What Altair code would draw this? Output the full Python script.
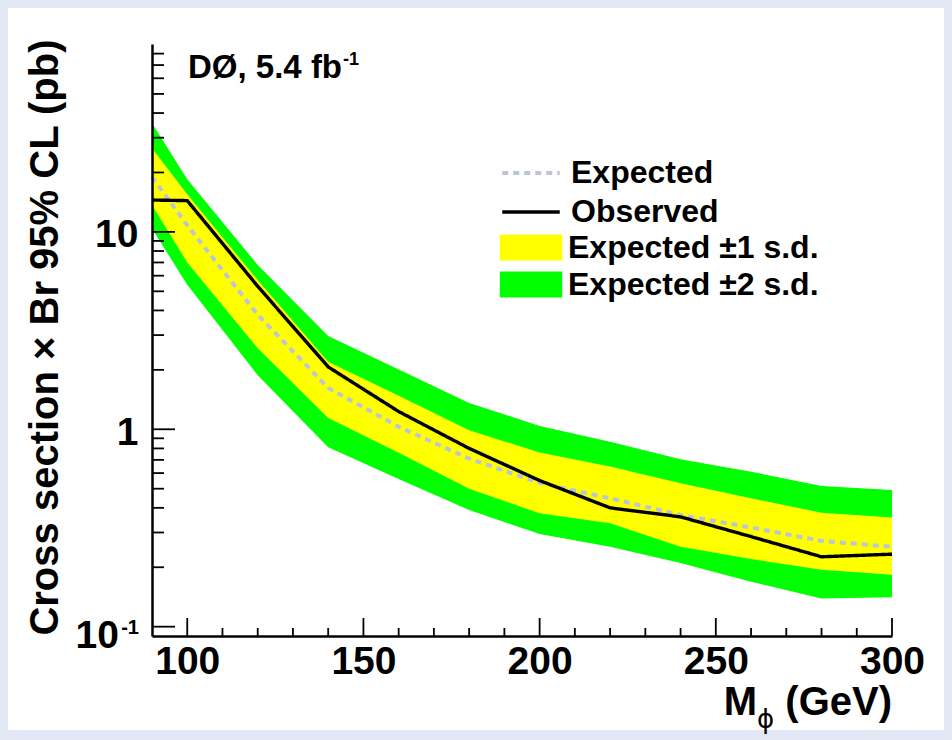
import altair as alt
import pandas as pd

# 95% CL upper limits on cross section x branching ratio (pb) vs Higgs mass
mass = [90, 100, 120, 140, 160, 180, 200, 220, 240, 260, 280, 300]
observed = [14.5, 14.4, 5.3, 2.07, 1.23, 0.80, 0.55, 0.40, 0.36, 0.286, 0.226, 0.233]
expected = [19.0, 10.8, 3.8, 1.62, 1.03, 0.71, 0.535, 0.447, 0.368, 0.318, 0.272, 0.254]
exp_minus1 = [13.7, 7.0, 2.57, 1.14, 0.76, 0.50, 0.375, 0.334, 0.254, 0.22, 0.194, 0.183]
exp_plus1 = [26.5, 15.5, 5.7, 2.2, 1.48, 0.99, 0.762, 0.647, 0.533, 0.447, 0.378, 0.357]
exp_minus2 = [10.4, 5.4, 1.88, 0.81, 0.56, 0.39, 0.295, 0.254, 0.21, 0.169, 0.139, 0.141]
exp_plus2 = [35.5, 18.5, 6.8, 2.97, 2.01, 1.36, 1.04, 0.865, 0.705, 0.61, 0.516, 0.493]

series_names = ["Expected", "Observed"]
band_names = ["Expected \u00b11 s.d.", "Expected \u00b12 s.d."]

# axis ticks
x_major = [100, 150, 200, 250, 300]
x_minor = [110, 120, 130, 140, 160, 170, 180, 190, 210, 220, 230, 240, 260, 270, 280, 290]
y_major = [0.1, 1, 10]
y_minor = [0.2, 0.3, 0.4, 0.5, 0.6, 0.7, 0.8, 0.9, 2, 3, 4, 5, 6, 7, 8, 9,
           20, 30, 40, 50, 60, 70, 80]

y_title = "Cross section \u00d7 Br 95% CL (pb)"
lumi_label = ["D\u00d8, 5.4 fb"]
lumi_power = ["-1"]
x_title_main = ["M"]
x_title_sub = ["\u03d5"]
x_title_unit = ["(GeV)"]
low_label_base = ["10"]
low_label_power = ["-1"]

W, H = 740, 592
FONT = "Liberation Sans"
n = len(mass)

bands = pd.DataFrame({
    "mass": mass * 2,
    "lo": exp_minus1 + exp_minus2,
    "hi": exp_plus1 + exp_plus2,
    "band": [band_names[0]] * n + [band_names[1]] * n,
})
lines = pd.DataFrame({
    "mass": mass * 2,
    "limit": expected + observed,
    "series": [series_names[0]] * n + [series_names[1]] * n,
})

xs = alt.Scale(domain=[90, 300], nice=False, zero=False)
ys = alt.Scale(type="log", domain=[0.0897, 89.5], nice=False)

x_axis = alt.Axis(values=x_major, ticks=False, grid=False, title=None,
                  labelFont=FONT, labelFontSize=39, labelFontWeight="bold",
                  labelColor="black", labelPadding=6, domainColor="black",
                  domainWidth=2.5, labelFlush=False, zindex=1)
y_axis = alt.Axis(values=[1, 10], ticks=False, grid=False, title=y_title,
                  labelExpr="datum.value == 1 ? '1' : '10'",
                  labelFont=FONT, labelFontSize=39, labelFontWeight="bold",
                  labelColor="black", labelPadding=14, labelBaseline="middle",
                  labelOffset=3, domainColor="black", domainWidth=2.5,
                  titleFont=FONT, titleFontSize=40, titleFontWeight="bold",
                  titleColor="black", titleAnchor="end", titleAlign="right",
                  titleAngle=-90, titleBaseline="alphabetic",
                  titleX=-95, titleY=-5, zindex=1)


def X(field):
    return alt.X(field, type="quantitative", scale=xs, axis=x_axis)


def Y(field):
    return alt.Y(field, type="quantitative", scale=ys, axis=y_axis)


fill_scale = alt.Scale(domain=band_names, range=["#ffff00", "#00ff00"])
fill_legend = alt.Legend(title=None, orient="none", legendX=363, legendY=187.5,
                         symbolType="M-2.4,-1H2.4V1H-2.4Z", symbolSize=676,
                         symbolStrokeWidth=0, symbolOpacity=1, labelOffset=21,
                         rowPadding=5, labelFont=FONT, labelFontSize=32,
                         labelFontWeight="bold", labelColor="black",
                         labelLimit=0, padding=0, zindex=1)

stroke_scale = alt.Scale(domain=series_names, range=["#bcc5d3", "#000000"])
dash_scale = alt.Scale(domain=series_names, range=[[6, 5], [1, 0]])
width_scale = alt.Scale(domain=series_names, range=[4, 3.4])
line_legend = alt.Legend(title=None, orient="none", legendX=363, legendY=113,
                         symbolType="M-2.5,0H2.5", symbolSize=529,
                         symbolStrokeWidth=3.5, labelOffset=24, rowPadding=7,
                         labelFont=FONT, labelFontSize=32, labelFontWeight="bold",
                         labelColor="black", labelLimit=0, padding=0, zindex=1)

# white panel behind the plot
panel = alt.Chart(pd.DataFrame({"p": [0]})).mark_rect(color="white").encode(
    x=alt.value(-144), x2=alt.value(792), y=alt.value(-36), y2=alt.value(686)
)

green = alt.Chart(bands).transform_filter(
    alt.datum.band == band_names[1]
).mark_area(orient="vertical").encode(
    x=X("mass"), y=Y("lo"), y2="hi:Q",
    fill=alt.Fill("band:N", scale=fill_scale, legend=fill_legend),
)
yellow = alt.Chart(bands).transform_filter(
    alt.datum.band == band_names[0]
).mark_area(orient="vertical").encode(
    x=X("mass"), y=Y("lo"), y2="hi:Q",
    fill=alt.Fill("band:N", scale=fill_scale, legend=fill_legend),
)

limit_lines = alt.Chart(lines).mark_line().encode(
    x=X("mass"), y=Y("limit"),
    stroke=alt.Stroke("series:N", scale=stroke_scale, legend=line_legend),
    strokeDash=alt.StrokeDash("series:N", scale=dash_scale, legend=line_legend),
    strokeWidth=alt.StrokeWidth("series:N", scale=width_scale, legend=None),
)


def y_ticks(values, length):
    return alt.Chart(pd.DataFrame({"v": values})).mark_rule(
        color="black", strokeWidth=1.8
    ).encode(y=Y("v"), x=alt.value(0), x2=alt.value(length))


def x_ticks(values, length):
    return alt.Chart(pd.DataFrame({"v": values})).mark_rule(
        color="black", strokeWidth=1.8
    ).encode(x=X("v"), y=alt.value(H), y2=alt.value(H - length))


def note(values, size, dx_px, dy_px, align="left", weight="bold", font=FONT):
    return alt.Chart(pd.DataFrame({"t": values})).mark_text(
        font=font, fontSize=size, fontWeight=weight, color="black",
        align=align, baseline="alphabetic"
    ).encode(text="t:N", x=alt.value(dx_px), y=alt.value(dy_px))


low_base = alt.Chart(pd.DataFrame({"t": low_label_base, "v": [0.1]})).mark_text(
    font=FONT, fontSize=39, fontWeight="bold", color="black",
    align="right", baseline="middle", dy=9
).encode(text="t:N", y=Y("v"), x=alt.value(-33))
low_power = alt.Chart(pd.DataFrame({"t": low_label_power, "v": [0.1]})).mark_text(
    font=FONT, fontSize=20, fontWeight="bold", color="black",
    align="right", baseline="middle", dy=1
).encode(text="t:N", y=Y("v"), x=alt.value(-13))

chart = alt.layer(
    panel,
    green,
    yellow,
    limit_lines,
    y_ticks(y_major, 23),
    y_ticks(y_minor, 12),
    x_ticks(x_major, 18),
    x_ticks(x_minor, 8),
    note(lumi_label, 33, 36, 34),
    note(lumi_power, 18, 191, 21),
    note(x_title_main, 40, 605, 671, align="right"),
    note(x_title_sub, 26, 605, 684, weight="normal", font="DejaVu Sans"),
    note(x_title_unit, 40, 740, 671, align="right"),
    low_base,
    low_power,
).resolve_scale(
    fill="shared", stroke="shared", strokeDash="shared"
).properties(
    width=W, height=H,
    padding={"left": 152, "top": 44, "right": 60, "bottom": 104},
    autosize=alt.AutoSizeParams(type="none"),
    background="#e2e9f4",
).configure_view(
    stroke="#222222", strokeWidth=1
)

chart.save("out.html", embed_options={"renderer": "svg", "actions": False})
